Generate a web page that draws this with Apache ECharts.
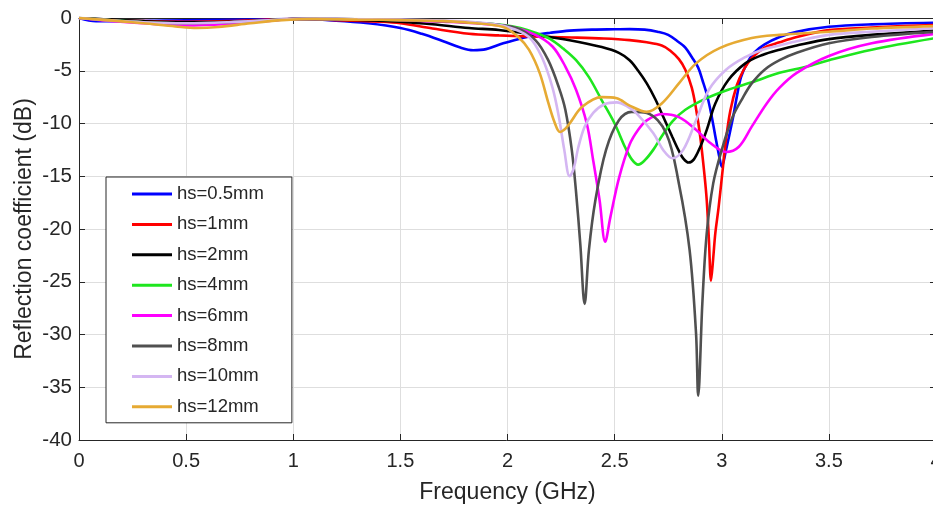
<!DOCTYPE html>
<html>
<head>
<meta charset="utf-8">
<script src="https://cdn.jsdelivr.net/npm/echarts@6/dist/echarts.min.js"></script>
<style>
html,body{margin:0;padding:0;background:#fff;overflow:hidden;}
#chart{width:933px;height:506px;}
</style>
</head>
<body>
<div id="chart"></div>
<script>
// Series names
const seriesNames = ['hs=0.5mm','hs=1mm','hs=2mm','hs=4mm','hs=6mm','hs=8mm','hs=10mm','hs=12mm'];
const xTicks = ['0','0.5','1','1.5','2','2.5','3','3.5','4'];

// hs = 0.5 mm
const f05 = [0,0.08,0.2,0.4,0.6,0.8,1.0,1.2,1.35,1.5,1.6,1.7,1.78,1.84,1.9,1.98,2.06,2.13,2.2,2.29,2.4,2.5,2.57,2.64,2.7,2.75,2.8,2.83,2.86,2.89,2.91,2.93,2.95,2.97,2.99,3.0,3.02,3.05,3.07,3.09,3.12,3.15,3.2,3.27,3.35,3.5,3.7,4.0];
const s05 = [0,-0.3,-0.3,-0.25,-0.2,-0.15,-0.1,-0.25,-0.5,-0.95,-1.5,-2.2,-2.8,-3.05,-2.95,-2.4,-1.95,-1.6,-1.4,-1.2,-1.1,-1.07,-1.05,-1.1,-1.3,-1.6,-2.3,-2.8,-3.7,-4.7,-5.9,-7.2,-9.0,-11.2,-13.3,-14.1,-12.5,-9.7,-7.5,-5.6,-4.2,-3.3,-2.5,-1.8,-1.3,-0.83,-0.6,-0.45];

// hs = 1 mm
const f1 = [0,0.1,0.3,0.5,0.7,0.9,1.0,1.2,1.4,1.5,1.65,1.82,1.96,2.1,2.3,2.45,2.57,2.65,2.72,2.76,2.8,2.83,2.86,2.88,2.9,2.92,2.93,2.94,2.95,2.96,2.97,2.985,3.0,3.02,3.04,3.07,3.1,3.14,3.2,3.27,3.35,3.5,3.7,4.0];
const s1 = [0,-0.15,-0.3,-0.35,-0.3,-0.15,-0.1,-0.2,-0.35,-0.5,-1.0,-1.5,-1.65,-1.75,-1.85,-1.95,-2.1,-2.3,-2.6,-3.1,-3.9,-4.9,-6.6,-8.6,-11.3,-15.0,-17.3,-21.0,-24.9,-22.8,-20.4,-18.0,-15.2,-11.5,-8.8,-6.4,-5.0,-3.8,-2.8,-2.3,-1.8,-1.15,-0.9,-0.66];

// hs = 2 mm
const f2 = [0,0.1,0.3,0.5,0.7,0.9,1.0,1.2,1.4,1.5,1.65,1.82,1.96,2.13,2.29,2.44,2.52,2.57,2.61,2.65,2.69,2.73,2.77,2.8,2.82,2.845,2.87,2.9,2.93,2.97,3.03,3.11,3.19,3.27,3.35,3.5,3.7,4.0];
const s2 = [0,-0.1,-0.3,-0.4,-0.35,-0.2,-0.1,-0.15,-0.25,-0.35,-0.6,-0.95,-1.14,-1.6,-2.1,-2.75,-3.3,-4.0,-5.0,-6.2,-7.7,-9.5,-11.3,-12.6,-13.3,-13.7,-13.4,-12.2,-10.6,-8.1,-5.9,-4.3,-3.5,-3.0,-2.6,-2.0,-1.6,-1.2];

// hs = 4 mm
const f4 = [0,0.1,0.3,0.5,0.7,0.9,1.0,1.2,1.5,1.7,1.85,1.98,2.06,2.13,2.2,2.26,2.32,2.38,2.44,2.5,2.55,2.58,2.61,2.64,2.68,2.72,2.77,2.83,2.93,3.03,3.14,3.27,3.4,3.5,3.7,4.0];
const s4 = [0,-0.15,-0.4,-0.55,-0.45,-0.2,-0.1,-0.1,-0.2,-0.3,-0.45,-0.66,-0.95,-1.4,-2.0,-2.9,-4.0,-5.6,-7.8,-10.0,-12.3,-13.4,-13.9,-13.5,-12.5,-11.2,-9.8,-8.7,-7.6,-6.8,-6.1,-5.2,-4.6,-4.0,-3.0,-1.9];

// hs = 6 mm
const f6 = [0,0.1,0.3,0.5,0.7,0.9,1.0,1.2,1.5,1.7,1.85,2.02,2.13,2.21,2.27,2.32,2.37,2.40,2.43,2.456,2.48,2.52,2.57,2.61,2.65,2.72,2.8,2.88,2.95,3.02,3.08,3.14,3.21,3.27,3.35,3.5,3.7,4.0];
const s6 = [0,-0.2,-0.5,-0.7,-0.55,-0.25,-0.1,-0.1,-0.2,-0.35,-0.5,-0.85,-1.6,-2.7,-4.6,-6.8,-10.0,-13.5,-17.3,-21.2,-18.9,-15.2,-12.0,-10.6,-9.7,-9.1,-9.4,-10.6,-11.9,-12.7,-12.2,-10.3,-8.1,-6.6,-5.2,-3.6,-2.4,-1.5];

// hs = 8 mm
const f8 = [0,0.1,0.3,0.5,0.7,0.9,1.0,1.2,1.5,1.7,1.85,2.04,2.13,2.19,2.24,2.27,2.30,2.32,2.34,2.36,2.38,2.41,2.46,2.52,2.58,2.65,2.74,2.80,2.85,2.88,2.89,2.91,2.93,2.96,3.0,3.05,3.1,3.14,3.2,3.27,3.35,3.5,3.7,4.0];
const s8 = [0,-0.15,-0.4,-0.5,-0.4,-0.2,-0.1,-0.1,-0.2,-0.3,-0.45,-0.95,-2.1,-4.0,-6.6,-8.7,-12.5,-16.5,-21.5,-27.1,-22.0,-17.3,-12.5,-9.7,-8.9,-9.0,-10.9,-15.7,-22.0,-29.9,-35.8,-26.8,-20.4,-15.7,-12.5,-9.4,-7.5,-6.2,-4.9,-4.0,-3.3,-2.4,-1.8,-1.3];

// hs = 10 mm
const f10 = [0,0.1,0.3,0.5,0.7,0.9,1.0,1.2,1.5,1.7,1.85,2.0,2.1,2.16,2.21,2.24,2.265,2.29,2.31,2.33,2.36,2.4,2.45,2.51,2.56,2.60,2.68,2.73,2.77,2.82,2.88,2.94,3.02,3.11,3.19,3.27,3.35,3.5,3.7,4.0];
const s10 = [0,-0.15,-0.4,-0.5,-0.4,-0.2,-0.1,-0.1,-0.15,-0.25,-0.4,-0.85,-1.8,-3.7,-6.6,-9.4,-12.5,-15.0,-14.2,-12.3,-10.3,-9.0,-8.2,-8.0,-8.4,-9.0,-10.9,-12.6,-13.3,-12.5,-9.7,-6.8,-4.9,-3.7,-3.0,-2.6,-2.2,-1.6,-1.3,-0.95];

// hs = 12 mm
const f12 = [0,0.1,0.3,0.45,0.55,0.65,0.8,0.95,1.1,1.3,1.5,1.7,1.82,1.98,2.05,2.10,2.15,2.19,2.22,2.245,2.27,2.29,2.35,2.44,2.51,2.57,2.65,2.72,2.80,2.88,2.99,3.14,3.27,3.5,3.7,4.0];
const s12 = [0,-0.15,-0.5,-0.8,-0.95,-0.85,-0.5,-0.2,-0.1,-0.15,-0.2,-0.3,-0.45,-0.85,-1.8,-3.0,-5.2,-8.0,-9.9,-10.8,-10.5,-10.0,-8.4,-7.5,-7.6,-8.3,-8.9,-8.1,-6.2,-4.3,-2.85,-1.9,-1.6,-1.3,-1.0,-0.76];

const freqs = [f05,f1,f2,f4,f6,f8,f10,f12];
const vals = [s05,s1,s2,s4,s6,s8,s10,s12];
const colors = ['#0000FF','#FF0000','#000000','#1EE61E','#FF00FF','#505050','#D4B6F2','#E6AA33'];

const FONT = '"Liberation Sans", Arial, Helvetica, sans-serif';
const TXT = '#262626';

const chart = echarts.init(document.getElementById('chart'), null, {renderer:'canvas'});

const series = seriesNames.map((name, i) => ({
  name: name,
  type: 'line',
  data: freqs[i].map((f, k) => [f, vals[i][k]]),
  showSymbol: false,
  symbol: 'none',
  smooth: 0.35,
  lineStyle: {color: colors[i], width: 2.6},
  itemStyle: {color: colors[i]},
  z: 3 + i
}));

const option = {
  animation: false,
  backgroundColor: '#fff',
  textStyle: {fontFamily: FONT},
  grid: {left: 79, top: 18, width: 857, height: 422, containLabel: false, outerBoundsMode: 'none'},
  xAxis: [{
    type: 'value', min: 0, max: 4, interval: 0.5,
    name: 'Frequency (GHz)', nameLocation: 'middle', nameGap: 41, nameMoveOverlap: false,
    nameTextStyle: {fontSize: 23, color: TXT, fontFamily: FONT},
    axisLine: {show: true, onZero: false, lineStyle: {color: TXT, width: 1}},
    axisTick: {show: true, inside: true, length: 6, lineStyle: {color: TXT}},
    axisLabel: {fontSize: 20, color: TXT, margin: 11, fontFamily: FONT,
      formatter: (v) => xTicks[Math.round(v / 0.5)]},
    splitLine: {show: true, lineStyle: {color: '#dedede', width: 1}}
  },{
    type: 'value', min: 0, max: 4, interval: 0.5, position: 'top',
    axisLine: {show: true, onZero: false, lineStyle: {color: TXT, width: 1}},
    axisTick: {show: true, inside: true, length: 6, lineStyle: {color: TXT}},
    axisLabel: {show: false}, splitLine: {show: false}
  }],
  yAxis: [{
    type: 'value', min: -40, max: 0, interval: 5,
    name: 'Reflection coefficient (dB)', nameLocation: 'middle', nameGap: 43, nameRotate: 90,
    nameMoveOverlap: false,
    nameTextStyle: {fontSize: 23, color: TXT, fontFamily: FONT},
    axisLine: {show: true, onZero: false, lineStyle: {color: TXT, width: 1}},
    axisTick: {show: true, inside: true, length: 6, lineStyle: {color: TXT}},
    axisLabel: {fontSize: 20.5, color: TXT, margin: 7, fontFamily: FONT},
    splitLine: {show: true, lineStyle: {color: '#dedede', width: 1}}
  },{
    type: 'value', min: -40, max: 0, interval: 5, position: 'right',
    axisLine: {show: true, onZero: false, lineStyle: {color: TXT, width: 1}},
    axisTick: {show: true, inside: true, length: 6, lineStyle: {color: TXT}},
    axisLabel: {show: false}, splitLine: {show: false}
  }],
  legend: {
    data: seriesNames,
    orient: 'vertical',
    left: 106, top: 177,
    padding: [7, 28, 6, 26],
    itemWidth: 40, itemHeight: 3,
    itemGap: 10.4,
    itemTextGap: 4,
    icon: 'rect',
    backgroundColor: '#ffffff',
    borderColor: '#262626', borderWidth: 1, borderRadius: 0,
    textStyle: {fontSize: 18.5, color: TXT, lineHeight: 20, fontFamily: FONT},
    z: 20
  },
  series: series
};
chart.setOption(option);
</script>
</body>
</html>
